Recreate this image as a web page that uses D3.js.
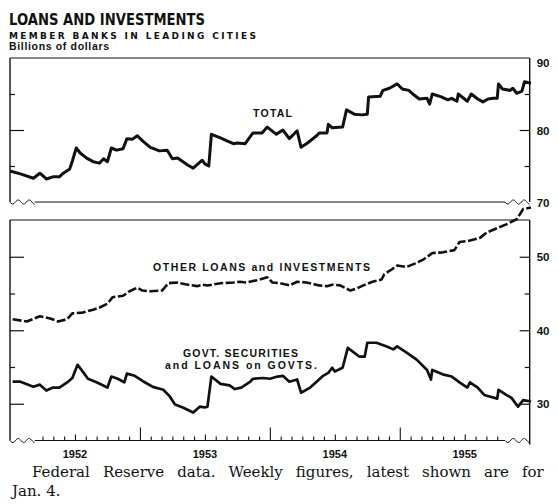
<!DOCTYPE html>
<html>
<head>
<meta charset="utf-8">
<script src="https://cdn.jsdelivr.net/npm/d3@7"></script>
<style>
body { margin: 0; background: #fff; }
svg { display: block; }
</style>
</head>
<body>
<div id="chart"></div>
<script>
// weekly series, x as fractional year
var totalYears = [1952.00, 1952.08, 1952.18, 1952.23, 1952.28, 1952.33, 1952.38, 1952.41, 1952.46, 1952.48,
    1952.51, 1952.54, 1952.59, 1952.64, 1952.69, 1952.72, 1952.75, 1952.78, 1952.82, 1952.87,
    1952.90, 1952.94, 1952.98, 1953.02, 1953.08, 1953.15, 1953.21, 1953.25, 1953.29, 1953.37,
    1953.41, 1953.48, 1953.50, 1953.53, 1953.55, 1953.62, 1953.67, 1953.72, 1953.75, 1953.81,
    1953.87, 1953.94, 1953.98, 1954.05, 1954.10, 1954.15, 1954.21, 1954.24, 1954.29, 1954.36,
    1954.38, 1954.44, 1954.45, 1954.48, 1954.56, 1954.59, 1954.65, 1954.71, 1954.75, 1954.76,
    1954.85, 1954.87, 1954.92, 1954.98, 1955.02, 1955.07, 1955.10, 1955.15, 1955.21, 1955.23,
    1955.25, 1955.32, 1955.37, 1955.40, 1955.44, 1955.45, 1955.52, 1955.55, 1955.60, 1955.64,
    1955.68, 1955.72, 1955.75, 1955.76, 1955.79, 1955.85, 1955.87, 1955.90, 1955.94, 1955.96, 1956.01];
var totalValues = [74.3, 73.9, 73.3, 74.0, 73.2, 73.5, 73.5, 74.0, 74.6, 75.7,
    77.5, 76.8, 76.1, 75.6, 75.4, 76.0, 75.6, 77.5, 77.2, 77.4,
    78.8, 78.7, 79.2, 78.5, 77.6, 77.1, 77.2, 76.0, 76.1, 75.1,
    74.7, 75.8, 75.3, 75.0, 79.4, 78.9, 78.5, 78.1, 78.2, 78.1,
    79.6, 79.6, 80.4, 79.4, 80.0, 78.8, 79.9, 77.6, 78.2, 79.2,
    79.6, 79.6, 80.8, 80.3, 80.4, 82.8, 82.2, 82.1, 82.2, 84.6,
    84.7, 85.5, 85.8, 86.4, 85.7, 85.5, 85.0, 84.3, 84.4, 83.6,
    85.0, 84.6, 84.2, 84.4, 84.0, 85.0, 84.0, 85.0, 84.3, 83.9,
    84.3, 84.4, 84.4, 86.4, 85.7, 85.5, 85.8, 85.1, 85.4, 86.7, 86.5];

var otherYears = [1952.02, 1952.13, 1952.23, 1952.31, 1952.37, 1952.44, 1952.48, 1952.56, 1952.64, 1952.69,
    1952.75, 1952.79, 1952.87, 1952.92, 1952.98, 1953.02, 1953.08, 1953.17, 1953.22, 1953.28,
    1953.37, 1953.44, 1953.48, 1953.52, 1953.62, 1953.72, 1953.77, 1953.82, 1953.90, 1953.98,
    1954.02, 1954.08, 1954.15, 1954.21, 1954.28, 1954.38, 1954.44, 1954.48, 1954.54, 1954.62,
    1954.67, 1954.72, 1954.79, 1954.86, 1954.88, 1954.94, 1954.98, 1955.05, 1955.12, 1955.18,
    1955.25, 1955.33, 1955.42, 1955.46, 1955.54, 1955.62, 1955.67, 1955.75, 1955.82, 1955.90,
    1955.95, 1956.01];
var otherValues = [41.5, 41.2, 41.9, 41.6, 41.2, 41.5, 42.3, 42.4, 42.8, 43.1,
    43.6, 44.5, 44.7, 45.3, 45.8, 45.4, 45.3, 45.4, 46.4, 46.5,
    46.2, 46.0, 46.2, 46.1, 46.4, 46.5, 46.6, 46.5, 46.8, 47.2,
    46.5, 46.4, 46.1, 46.6, 46.5, 46.1, 46.0, 46.2, 46.1, 45.4,
    45.7, 46.1, 46.6, 46.9, 47.6, 48.3, 48.8, 48.6, 49.1, 49.6,
    50.5, 50.6, 50.9, 52.0, 52.2, 52.6, 53.3, 53.9, 54.4, 55.1,
    56.5, 56.7];

var govtYears = [1952.02, 1952.08, 1952.18, 1952.23, 1952.28, 1952.33, 1952.38, 1952.44, 1952.48, 1952.52,
    1952.55, 1952.60, 1952.67, 1952.75, 1952.78, 1952.83, 1952.88, 1952.90, 1952.96, 1953.02,
    1953.10, 1953.18, 1953.23, 1953.27, 1953.33, 1953.41, 1953.46, 1953.50, 1953.52, 1953.55,
    1953.62, 1953.69, 1953.73, 1953.78, 1953.85, 1953.87, 1953.95, 1954.00, 1954.06, 1954.10,
    1954.15, 1954.21, 1954.24, 1954.31, 1954.36, 1954.41, 1954.45, 1954.48, 1954.50, 1954.56,
    1954.60, 1954.69, 1954.73, 1954.75, 1954.82, 1954.90, 1954.95, 1954.98, 1955.05, 1955.13,
    1955.21, 1955.24, 1955.25, 1955.33, 1955.40, 1955.46, 1955.52, 1955.54, 1955.60, 1955.65,
    1955.75, 1955.76, 1955.82, 1955.86, 1955.91, 1955.95, 1956.01];
var govtValues = [33.0, 33.0, 32.3, 32.6, 31.8, 32.2, 32.2, 32.9, 33.5, 35.3,
    34.6, 33.4, 32.9, 32.2, 33.7, 33.4, 32.9, 34.1, 33.8, 33.1,
    32.3, 31.9, 31.0, 29.9, 29.5, 28.8, 29.6, 29.5, 29.6, 33.7,
    32.7, 32.5, 32.0, 32.2, 33.0, 33.4, 33.5, 33.4, 33.7, 33.8,
    33.0, 33.3, 31.5, 32.2, 33.0, 33.8, 34.2, 34.9, 34.4, 34.9,
    37.6, 36.4, 36.4, 38.3, 38.3, 37.8, 37.4, 37.8, 37.0, 36.0,
    34.6, 33.3, 34.6, 34.0, 33.7, 32.9, 32.2, 32.9, 32.2, 31.2,
    30.7, 31.9, 31.2, 30.8, 29.6, 30.5, 30.3];

var yearLabels = [1952, 1953, 1954, 1955];
var topTicks = [70, 75, 80, 85, 90];
var botTicks = [25, 30, 35, 40, 45, 50, 55];

var width = 558, height = 504;
var ink = "#111";
var labelFont = "'Liberation Sans', Arial, sans-serif";

var svg = d3.select("#chart").append("svg")
    .attr("width", width)
    .attr("height", height);

var x = d3.scaleLinear().domain([1952, 1956]).range([10, 529.7]);
var yTop = d3.scaleLinear().domain([70, 90]).range([202, 58]);
var yBot = d3.scaleLinear().domain([25, 55]).range([440.5, 220]);

// monthly ticks, skipping the ones hidden by the break marks
var monthTicks = d3.range(3, 46).map(function(m) { return 1952 + m / 12; });
var breakL = 1952.19, breakR = 1955.81;

// ---- titles
svg.append("text")
    .attr("x", 9).attr("y", 25)
    .attr("textLength", 196).attr("lengthAdjust", "spacingAndGlyphs")
    .style("font-family", "'DejaVu Sans', sans-serif")
    .style("font-weight", "bold")
    .style("font-size", "16.5px")
    .attr("fill", ink)
    .text("LOANS AND INVESTMENTS");
svg.append("text")
    .attr("x", 9).attr("y", 39)
    .attr("textLength", 247).attr("lengthAdjust", "spacing")
    .style("font-family", "'DejaVu Sans', sans-serif")
    .style("font-weight", "bold")
    .style("font-size", "9px")
    .attr("fill", ink)
    .text("MEMBER BANKS IN LEADING CITIES");
svg.append("text")
    .attr("x", 9).attr("y", 50)
    .attr("textLength", 100).attr("lengthAdjust", "spacing")
    .style("font-family", labelFont)
    .style("font-weight", "bold")
    .style("font-size", "10.5px")
    .attr("fill", ink)
    .text("Billions of dollars");

// ---- break marks (zig-zag at the cut ends of a panel)
function wave(x0, x1, yy) {
    var n = 24;
    var pts = d3.range(n + 1).map(function(i) {
        var t = i / n;
        return [x0 + (x1 - x0) * t, yy + 2.2 * Math.sin(t * Math.PI * 4.5)];
    });
    return d3.line().curve(d3.curveBasis)(pts);
}

var frame = svg.append("g")
    .attr("stroke", ink)
    .attr("fill", "none");

function panelFrame(y, topV, botV, rightExtra) {
    frame.append("line")
        .attr("x1", x(1952)).attr("x2", x(1956))
        .attr("y1", y(topV)).attr("y2", y(topV))
        .attr("stroke-width", 1.1);
    frame.append("line")
        .attr("x1", x(breakL)).attr("x2", x(breakR))
        .attr("y1", y(botV)).attr("y2", y(botV))
        .attr("stroke-width", 1.2);
    frame.append("path").attr("d", wave(x(1952), x(breakL), y(botV))).attr("stroke-width", 1);
    frame.append("path").attr("d", wave(x(breakR), x(1956), y(botV))).attr("stroke-width", 1);
    frame.append("line")
        .attr("x1", x(1952)).attr("x2", x(1952))
        .attr("y1", y(topV)).attr("y2", y(botV))
        .attr("stroke-width", 1.4);
    frame.append("line")
        .attr("x1", x(1956)).attr("x2", x(1956))
        .attr("y1", y(topV)).attr("y2", y(botV) + rightExtra)
        .attr("stroke-width", 1.4);
}
panelFrame(yTop, 90, 70, 0);
panelFrame(yBot, 55, 25, 4);

// ---- left ticks (pointing inward)
function leftAxis(y, vals, lo, hi) {
    var g = svg.append("g")
        .attr("transform", "translate(" + x(1952) + ",0)")
        .call(d3.axisLeft(y).tickValues(vals.filter(function(v) { return v > lo && v < hi; }))
            .tickSizeInner(-5).tickSizeOuter(0).tickFormat(""));
    g.select(".domain").remove();
    g.selectAll(".tick line")
        .attr("stroke", ink)
        .attr("stroke-width", 1.2)
        .attr("x2", function(d) { return d % 10 === 0 ? 14 : 5; });
}
leftAxis(yTop, topTicks, 70, 90);
leftAxis(yBot, botTicks, 25, 55);

// ---- right ticks and labels
function rightAxis(y, vals, lo, hi) {
    var g = svg.append("g")
        .attr("transform", "translate(" + x(1956) + ",0)")
        .call(d3.axisRight(y).tickValues(vals)
            .tickSizeInner(-5).tickSizeOuter(0).tickPadding(7)
            .tickFormat(function(d) { return d % 10 === 0 ? d : ""; }));
    g.select(".domain").remove();
    g.selectAll(".tick line")
        .attr("stroke", ink)
        .attr("stroke-width", 1.2)
        .attr("x2", function(d) {
            if (d <= lo || d >= hi) return 0;
            return d % 10 === 0 ? -10 : -5;
        });
    g.selectAll(".tick text")
        .attr("fill", ink)
        .style("font-family", labelFont)
        .style("font-weight", "bold")
        .style("font-size", "11.5px")
        .attr("dy", function(d) { return d === hi ? "0.75em" : "0.35em"; });
}
rightAxis(yTop, topTicks, 70, 90);
rightAxis(yBot, botTicks, 25, 55);

// ---- month ticks on the bottom axis
var xg = svg.append("g")
    .attr("transform", "translate(0," + yBot(25) + ")")
    .call(d3.axisBottom(x).tickValues(monthTicks).tickSizeInner(-4).tickSizeOuter(0).tickFormat(""));
xg.select(".domain").remove();
xg.selectAll(".tick line")
    .attr("stroke", ink)
    .attr("stroke-width", 1.1)
    .attr("y2", function(d) {
        var m = Math.round((d - Math.floor(d + 1e-6)) * 12);
        if (m === 0) return -13;
        if (m === 6) return -6;
        return -4;
    });

svg.append("g").selectAll("text")
    .data(yearLabels)
    .enter()
    .append("text")
    .attr("x", function(d) { return x(d + 0.5); })
    .attr("y", 458)
    .attr("text-anchor", "middle")
    .style("font-family", labelFont)
    .style("font-weight", "bold")
    .style("font-size", "11px")
    .attr("fill", ink)
    .text(function(d) { return d; });

// ---- the three series
var lineTop = d3.line()
    .x(function(d) { return x(d[0]); })
    .y(function(d) { return yTop(d[1]); });
var lineBot = d3.line()
    .x(function(d) { return x(d[0]); })
    .y(function(d) { return yBot(d[1]); });

svg.append("path")
    .datum(d3.zip(totalYears, totalValues))
    .attr("d", lineTop)
    .attr("fill", "none")
    .attr("stroke", ink)
    .attr("stroke-width", 3)
    .attr("stroke-linejoin", "round");

svg.append("path")
    .datum(d3.zip(otherYears, otherValues))
    .attr("d", lineBot)
    .attr("fill", "none")
    .attr("stroke", ink)
    .attr("stroke-width", 2.6)
    .attr("stroke-dasharray", "9,2.5")
    .attr("stroke-linejoin", "round");

svg.append("path")
    .datum(d3.zip(govtYears, govtValues))
    .attr("d", lineBot)
    .attr("fill", "none")
    .attr("stroke", ink)
    .attr("stroke-width", 2.7)
    .attr("stroke-linejoin", "round");

// ---- series labels (letter-spaced like the print)
function seriesLabel(txt, x0, y0, len) {
    svg.append("text")
        .attr("x", x0).attr("y", y0)
        .attr("textLength", len).attr("lengthAdjust", "spacing")
        .style("font-family", labelFont)
        .style("font-weight", "bold")
        .style("font-size", "10.5px")
        .attr("fill", ink)
        .text(txt);
}
seriesLabel("TOTAL", 253, 117, 39);
seriesLabel("OTHER LOANS and INVESTMENTS", 153, 271, 217);
seriesLabel("GOVT. SECURITIES", 183, 357, 115);
seriesLabel("and LOANS on GOVTS.", 165, 369, 152);

// ---- footnote, justified like the printed page
var note = svg.append("text")
    .attr("x", 32).attr("y", 477)
    .style("font-family", "'DejaVu Serif', serif")
    .style("font-size", "15px")
    .attr("fill", ink)
    .text("Federal Reserve data.  Weekly figures, latest shown are for");
var natural = note.node().getComputedTextLength();
var gaps = note.text().split(" ").length - 1;
note.attr("word-spacing", Math.max(0, (552 - 32 - natural) / gaps));
svg.append("text")
    .attr("x", 12).attr("y", 496)
    .style("font-family", "'DejaVu Serif', serif")
    .style("font-size", "15px")
    .attr("fill", ink)
    .text("Jan. 4.");
</script>
</body>
</html>
